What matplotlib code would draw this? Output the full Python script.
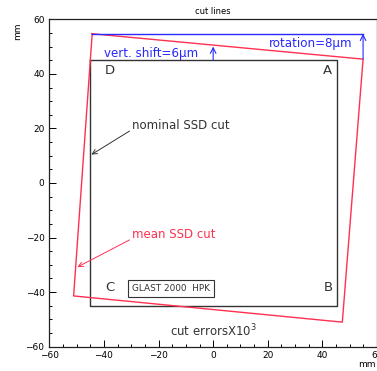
import matplotlib
matplotlib.use("Agg")
import matplotlib.pyplot as plt

# nominal SSD cut (square) and mean SSD cut (distorted) corners, in mm
nominal_x = [-45, 45.5, 45.5, -45, -45]
nominal_y = [45, 45, -45, -45, 45]
mean_x = [-44.3, 54.9, 47.3, -51.1, -44.3]
mean_y = [54.7, 45.4, -51.0, -41.4, 54.7]

# blue reference line at the top, and the two shift arrows
ref_x = [-44.3, 54.9]
ref_y = [54.7, 54.7]
shift_arrow = [(0, 45.0), (0, 50.0)]
rot_arrow = [(54.9, 45.4), (54.9, 54.7)]

corner_labels = ["D", "A", "B", "C"]
corner_pos = [(-38, 41.3), (42, 41.3), (42, -38.3), (-38, -38.3)]

red = "#ff3050"
blue = "#2828ff"
gray = "#333333"

plt.rcParams['font.family'] = ['DejaVu Sans']
fig = plt.figure(figsize=(3.77, 3.71), dpi=100)
ax = fig.add_axes([0.1308, 0.0655, 0.8692, 0.8825])

ax.plot(nominal_x, nominal_y, color=gray, lw=1.0)
ax.plot(mean_x, mean_y, color=red, lw=1.0)
ax.plot(ref_x, ref_y, color=blue, lw=1.0)

# shift arrows
for start, end in [shift_arrow, rot_arrow]:
    ax.annotate("", xy=end, xytext=start,
                arrowprops=dict(arrowstyle="->", color=blue, lw=0.8, mutation_scale=10,
                                shrinkA=0, shrinkB=0))

ax.text(-40, 47.6, "vert. shift=6µm", color=blue, fontsize=8.6, ha="left", va="center")
ax.text(20.5, 51.2, "rotation=8µm", color=blue, fontsize=8.6, ha="left", va="center")

for lab, (x, y) in zip(corner_labels, corner_pos):
    ax.text(x, y, lab, fontsize=9.5, color=gray, ha="center", va="center")

# annotations for the cuts
ax.annotate("nominal SSD cut", xy=(-44.6, 10.4), xytext=(-29.6, 21.1),
            color=gray, fontsize=8.5, ha="left", va="center",
            arrowprops=dict(arrowstyle="->", color=gray, lw=0.7, shrinkA=0, shrinkB=0,
                            relpos=(0, 0.2)))
ax.annotate("mean SSD cut", xy=(-49.7, -30.8), xytext=(-29.6, -18.9),
            color=red, fontsize=8.5, ha="left", va="center",
            arrowprops=dict(arrowstyle="->", color=red, lw=0.7, shrinkA=0, shrinkB=0,
                            relpos=(0, 0.2)))

ax.text(-15.5, -38.6, "GLAST 2000  HPK", fontsize=6.4, color=gray, ha="center", va="center",
        bbox=dict(boxstyle="square,pad=0.45", fc="white", ec=gray, lw=0.8))

ax.text(0, -54.2, "cut errorsX10$^3$", fontsize=8.5, color=gray, ha="center", va="center")

ax.set_xlim(-60, 60)
ax.set_ylim(-60, 60)
ax.set_xticks(range(-60, 61, 20))
ax.set_yticks(range(-60, 61, 20))
ax.set_xticks(range(-60, 61, 5), minor=True)
ax.set_yticks(range(-60, 61, 5), minor=True)
ax.tick_params(which="both", direction="in", labelsize=6.5, colors="black", width=0.7)
ax.tick_params(which="major", length=5)
ax.tick_params(which="minor", length=2.5)
ax.tick_params(axis="x", pad=3)
for s in ax.spines.values():
    s.set_linewidth(0.9)
    s.set_color("#222222")

ax.set_title("cut lines", fontsize=6, pad=4)
fig.text(0.048, 0.915, "mm", rotation=90, fontsize=6.5, ha="center", va="center")
fig.text(0.997, 0.018, "mm", fontsize=6.5, ha="right", va="center")

fig.savefig("out.png", dpi=100)
